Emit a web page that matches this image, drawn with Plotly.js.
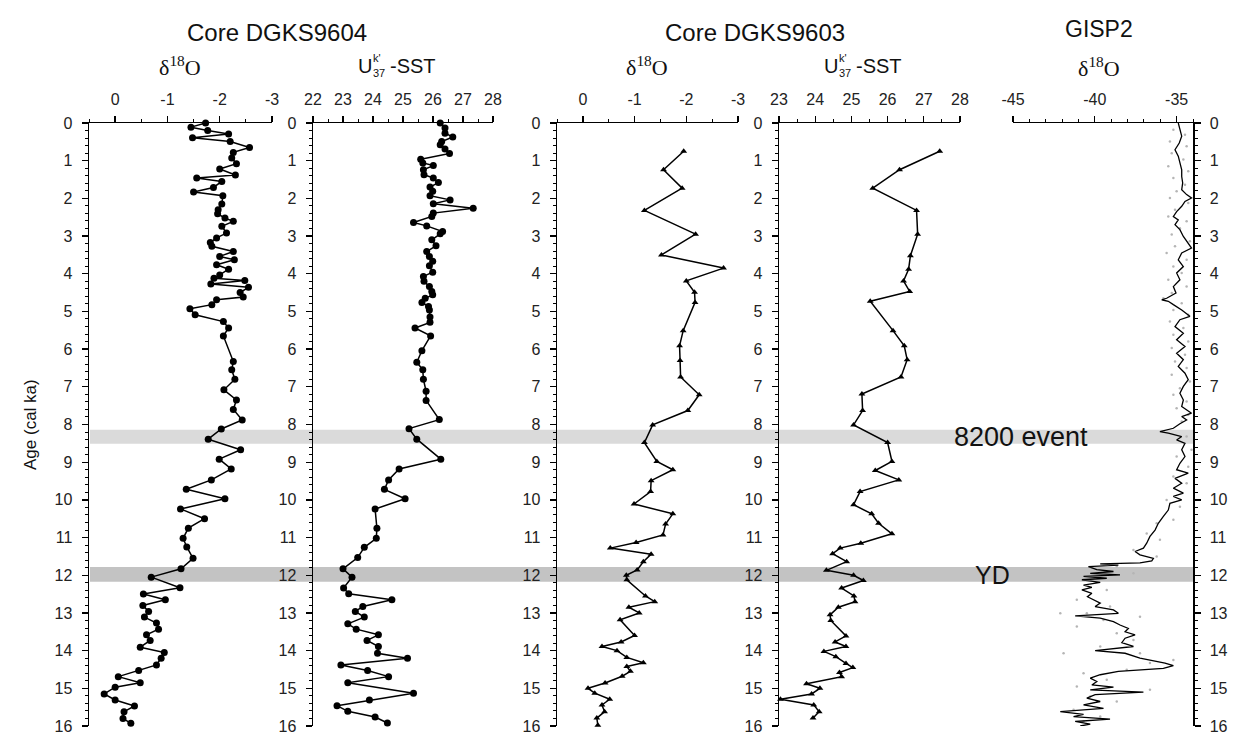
<!DOCTYPE html>
<html>
<head>
<meta charset="utf-8">
<script src="https://cdn.plot.ly/plotly-3.0.1.min.js"></script>
<style>html,body{margin:0;padding:0;background:#fff;}#chart{width:1238px;height:738px;}</style>
</head>
<body>
<div id="chart"></div>
<script>
// ---------- DATA ----------
// Core DGKS9604 d18O (age in cal ka, per mil)
const age9604d18O = [0.00,0.11,0.20,0.29,0.39,0.49,0.65,0.78, 0.93,1.08,1.22,1.38,1.46,1.55,1.71,1.83, 1.93,2.15,2.30,2.41,2.52,2.61,2.74,2.92, 3.05,3.17,3.27,3.41,3.54,3.63,3.76,3.88, 4.03,4.12,4.18,4.27,4.36,4.50,4.62,4.69, 4.82,4.93,5.09,5.27,5.44,5.65,6.33,6.55, 6.80,7.08,7.35,7.60,7.88,8.12,8.39,8.67, 8.92,9.18,9.47,9.72,9.97,10.24,10.50,10.75, 11.02,11.25,11.55,11.83,12.05,12.33,12.50,12.65, 12.80,12.96,13.11,13.27,13.43,13.58,13.73,13.91, 14.05,14.20,14.38,14.53,14.69,14.85,14.97,15.15, 15.31,15.47,15.62,15.80,15.93];
const val9604d18O = [-1.73,-1.45,-1.77,-2.17,-1.48,-2.20,-2.57,-2.26, -2.23,-2.32,-2.00,-2.30,-1.56,-2.04,-1.88,-1.50, -2.06,-2.04,-1.97,-1.96,-2.10,-2.26,-2.04,-2.13, -1.94,-1.82,-1.85,-2.26,-2.00,-2.28,-1.94,-2.17, -2.00,-1.89,-2.48,-1.83,-2.55,-2.39,-2.45,-1.94, -1.85,-1.43,-1.53,-2.07,-2.17,-2.07,-2.26,-2.23, -2.29,-2.08,-2.32,-2.26,-2.43,-2.03,-1.78,-2.40, -1.99,-2.22,-1.84,-1.36,-2.10,-1.25,-1.71,-1.40, -1.30,-1.37,-1.49,-1.26,-0.69,-1.24,-0.54,-0.96, -0.53,-0.64,-0.56,-0.79,-0.83,-0.60,-0.67,-0.48, -0.94,-0.88,-0.79,-0.45,-0.06,-0.48,0.00,0.21, 0.00,-0.37,-0.17,-0.15,-0.30];

// Core DGKS9604 UK'37-SST (deg C)
const age9604SST = [0.00,0.13,0.27,0.37,0.49,0.58,0.69,0.81, 0.96,1.06,1.13,1.24,1.37,1.46,1.58,1.70, 1.81,1.93,2.04,2.14,2.26,2.39,2.48,2.64, 2.73,2.88,2.94,3.10,3.26,3.41,3.54,3.67, 3.79,3.96,4.07,4.20,4.34,4.47,4.56,4.65, 4.76,4.87,4.96,5.15,5.29,5.44,5.65,6.04, 6.35,6.55,6.80,7.12,7.36,7.87,8.11,8.39, 8.92,9.18,9.47,9.72,9.97,10.24,10.75,11.02, 11.26,11.53,11.83,12.05,12.34,12.49,12.65,12.83, 12.96,13.11,13.29,13.43,13.58,13.73,13.89,14.07, 14.20,14.38,14.53,14.69,14.85,15.13,15.31,15.46, 15.61,15.76,15.92];
const val9604SST = [26.24,26.40,26.40,26.66,26.29,26.24,26.40,26.55, 25.59,25.66,26.01,25.68,25.70,26.01,26.18,25.90, 25.99,25.90,26.57,26.01,27.34,26.01,25.96,25.35, 25.79,26.32,26.24,25.96,26.10,25.79,25.88,25.99, 25.88,25.99,25.68,25.70,25.88,25.96,25.99,25.74, 25.63,25.85,25.88,25.90,25.90,25.40,25.92,25.63, 25.46,25.66,25.68,25.77,25.77,26.21,25.20,25.46, 26.26,24.87,24.52,24.38,25.07,24.07,24.13,24.11, 23.71,23.49,23.00,23.30,23.02,23.19,24.63,23.66, 23.41,23.71,23.16,23.44,24.18,23.80,24.18,24.15, 25.15,22.93,23.82,24.52,23.16,25.35,23.88,22.80, 23.16,24.07,24.48];

// Core DGKS9603 d18O
const age9603d18O = [0.75,1.24,1.73,2.32,2.95,3.50,3.85,4.19, 4.49,4.76,5.51,5.91,6.30,6.74,7.21,7.63, 8.01,8.48,8.98,9.20,9.49,9.78,10.11,10.37, 10.64,10.93,11.13,11.28,11.44,11.64,11.86,12.00, 12.12,12.55,12.70,12.85,13.00,13.18,13.60,13.77, 13.89,14.00,14.18,14.32,14.42,14.55,14.68,14.86, 15.00,15.13,15.29,15.44,15.62,15.79,15.98];
const val9603d18O = [-1.95,-1.56,-1.92,-1.19,-2.18,-1.52,-2.72,-2.00, -2.16,-2.17,-1.94,-1.87,-1.88,-1.89,-2.25,-2.03, -1.35,-1.19,-1.43,-1.74,-1.32,-1.31,-0.99,-1.74, -1.60,-1.55,-1.03,-0.53,-1.32,-1.17,-1.05,-0.84, -0.85,-1.21,-1.39,-0.89,-1.09,-0.72,-1.00,-0.74, -0.37,-0.66,-0.85,-1.17,-0.85,-0.92,-0.76,-0.43, -0.10,-0.23,-0.52,-0.37,-0.42,-0.27,-0.29];

// Core DGKS9603 UK'37-SST
const age9603SST = [0.75,1.24,1.73,2.32,2.95,3.52,3.88,4.19, 4.47,4.73,5.51,5.91,6.28,6.74,7.19,7.63, 8.01,8.48,8.98,9.22,9.47,9.78,10.13,10.37, 10.62,10.90,11.15,11.28,11.43,11.64,11.87,12.00, 12.14,12.34,12.55,12.70,12.85,13.05,13.20,13.61, 13.77,13.89,14.02,14.16,14.34,14.45,14.58,14.69, 14.88,15.00,15.15,15.29,15.44,15.62,15.79];
const val9603SST = [27.44,26.33,25.59,26.80,26.83,26.63,26.58,26.44, 26.61,25.52,26.15,26.46,26.54,26.37,25.29,25.31, 25.06,26.00,26.12,25.66,26.31,25.24,25.06,25.56, 25.75,26.12,25.26,24.69,24.48,24.87,24.31,25.06, 25.33,24.73,25.07,25.10,24.64,24.41,24.43,24.85, 24.55,24.85,24.24,24.57,24.85,25.04,24.67,24.73, 23.76,24.13,23.90,23.04,23.96,24.11,23.94];

// GISP2 d18O (smoothed line)
const ageGISP2 = [0.00,0.18,0.35,0.53,0.71,0.88,1.06,1.24,1.42,1.59,1.77,1.90,1.99,2.08,2.21,2.35,2.48,2.57,2.70,2.83,3.01,3.19,3.32,3.45,3.63,3.81,3.98,4.16,4.34,4.51,4.65,4.69,4.73,4.82,4.96,5.13,5.22,5.40,5.58,5.75,5.93,6.11,6.28,6.46,6.64,6.81,6.99,7.17,7.35,7.52,
 7.70,7.79,7.88,7.98,8.10,8.19,8.23,8.32,8.41,8.50,8.67,8.85,9.03,9.20,9.29,9.43,9.56,9.69,9.82,9.91,10.00,10.09,10.27,10.44,10.62,10.80,10.97,11.15,11.28,11.37,11.46,11.55,11.62,11.67,11.70,11.73,11.77,11.85,11.90,11.95,11.99,12.03,12.08,12.12,12.19,12.26,12.32,12.39,12.48,12.57,12.65,12.74,12.83,12.92,13.01,13.08,13.14,13.23,13.32,13.41,13.50,13.58,13.67,13.79,13.89,14.00,14.07,14.20,14.33,14.40,14.47,14.55,14.64,14.73,14.82,14.91,14.97,15.04,15.10,15.17,15.26,15.35,15.44,15.53,15.62,15.69,15.75,15.82,15.88,15.95,16.00];
const valGISP2 = [-34.90,-34.80,-34.69,-34.84,-35.10,-34.90,-34.80,-34.69,-34.69,-34.63,-34.69,-34.39,-34.09,-34.49,-34.69,-35.00,-35.20,-34.90,-35.10,-34.80,-34.59,-34.29,-34.09,-34.69,-34.90,-34.59,-35.00,-34.80,-35.20,-35.04,-35.61,-35.91,-35.51,-35.20,-34.69,-34.19,-34.80,-35.10,-34.59,-35.00,-34.49,-35.00,-34.59,-34.90,-34.49,-34.29,-34.59,-34.80,-34.59,-34.69,
 -34.09,-34.69,-34.39,-34.80,-35.20,-36.02,-35.51,-34.69,-35.00,-34.49,-34.69,-34.49,-34.80,-35.00,-34.29,-35.10,-34.69,-35.20,-34.59,-35.20,-34.69,-35.41,-35.51,-35.81,-36.12,-36.32,-36.63,-36.83,-37.03,-37.54,-37.24,-36.42,-36.52,-37.24,-39.67,-38.56,-40.39,-39.88,-38.86,-40.28,-38.46,-40.69,-39.27,-40.79,-39.67,-40.69,-40.18,-40.79,-40.18,-40.45,-40.08,-39.67,-39.98,-38.86,-38.56,-41.20,-39.67,-38.86,-38.46,-37.95,-38.15,-37.54,-38.15,-38.35,-37.64,-39.98,-38.15,-37.24,-35.71,-35.20,-35.81,-38.56,-39.67,-40.28,-39.88,-40.18,-38.86,-40.28,-37.03,-39.98,-40.49,-39.67,-40.69,-39.47,-42.11,-40.69,-41.30,-39.07,-41.20,-40.28,-40.89];

// GISP2 d18O raw samples (grey dots)
const ageGISP2raw = [0.18,0.31,0.49,0.62,0.80,0.97,1.15,1.28,1.46,1.64,1.81,1.99,2.12,2.30,2.48,2.61,2.79,2.96,3.14,3.27,3.45,3.63,3.81,3.98,4.16,4.34,4.51,4.65,4.78,4.96,5.09,5.27,5.44,5.62,5.80,5.97,6.15,6.33,6.50,6.68,6.86,7.04,7.21,7.39,7.57,7.74,7.92,8.32,8.67,8.85,9.12,9.38,9.56,10.00,10.18,10.53,10.62,10.89,11.06,11.33,11.50,11.77,11.95,12.12,12.39,12.65,12.83,13.01,13.01,13.10,13.19,13.36,13.54,13.72,13.89,14.07,14.07,14.25,14.33,14.51,14.60,14.77,14.95,15.04,15.22,15.35,15.57,15.75,15.88];
const valGISP2raw = [-35.20,-34.49,-35.41,-34.39,-35.30,-34.59,-35.51,-34.29,-35.20,-34.49,-35.00,-35.41,-34.29,-35.10,-35.51,-34.39,-34.80,-35.30,-34.19,-35.10,-35.61,-34.39,-35.20,-34.69,-35.51,-34.39,-35.30,-35.81,-34.69,-35.20,-34.29,-35.41,-34.59,-35.20,-34.29,-35.30,-34.49,-35.10,-34.39,-35.30,-34.19,-34.80,-35.20,-34.39,-35.00,-34.29,-34.69,-34.39,-34.09,-35.00,-34.29,-35.20,-34.39,-35.61,-34.80,-35.20,-36.22,-36.83,-36.02,-37.64,-36.22,-38.66,-37.64,-40.69,-39.27,-41.10,-39.07,-40.49,-42.11,-37.24,-39.47,-41.10,-38.66,-37.64,-39.67,-37.24,-41.91,-35.20,-36.63,-38.05,-40.69,-39.27,-41.10,-36.63,-40.28,-38.66,-41.30,-39.67,-40.69];

// Event bands (cal ka)
const band8200 = [8.14, 8.51];
const bandYD = [11.78, 12.17];

// ---------- LAYOUT ----------
const W = 1238, H = 738;
const px = v => v / W;
const py = v => 1 - v / H;
const yDom = [py(726), py(123)];
const tickFont = {family: 'Liberation Sans, Arial, sans-serif', size: 16, color: '#222'};
const lineCol = '#000';

function xAx(dom, range, anchor, extra) {
  return Object.assign({
    domain: dom, range: range, anchor: anchor, side: 'top',
    showline: true, linecolor: lineCol, linewidth: 1.5,
    ticks: 'outside', ticklen: 6, tickwidth: 1.3, tickcolor: lineCol,
    showgrid: false, zeroline: false, tickfont: tickFont, ticklabelstandoff: 4,
    fixedrange: true
  }, extra);
}
function yAx(anchor, side, extra) {
  return Object.assign({
    domain: yDom, range: [16, 0], anchor: anchor, side: side,
    showline: true, linecolor: lineCol, linewidth: 1.5,
    ticks: 'outside', ticklen: 6, tickwidth: 1.3, tickcolor: lineCol,
    tickmode: 'linear', tick0: 0, dtick: 1,
    minor: {ticks: 'outside', ticklen: 3, tickwidth: 1, tickcolor: lineCol, dtick: 0.2, tick0: 0},
    showgrid: false, zeroline: false, tickfont: tickFont, ticklabelstandoff: 6,
    fixedrange: true
  }, extra);
}
const dTicks = {tickmode: 'array', tickvals: [0, -1, -2, -3], ticktext: ['0', '-1', '-2', '-3'],
  minor: {ticks: 'outside', ticklen: 3, tickwidth: 1, tickcolor: lineCol, tickmode: 'linear', tick0: 0, dtick: 0.5}};
const sstTicks = {tickmode: 'linear', tick0: 22, dtick: 1,
  minor: {ticks: 'outside', ticklen: 3, tickwidth: 1, tickcolor: lineCol, tickmode: 'linear', tick0: 22, dtick: 0.5}};

const layout = {
  width: W, height: H,
  margin: {l: 0, r: 0, t: 0, b: 0},
  paper_bgcolor: '#fff', plot_bgcolor: 'rgba(0,0,0,0)',
  showlegend: false,
  font: {family: 'Liberation Sans, Arial, sans-serif', color: '#222'},
  xaxis:  xAx([px(89), px(272)], [0.5, -3], 'y', dTicks),
  yaxis:  yAx('x', 'left'),
  xaxis2: xAx([px(313), px(493)], [22, 28], 'y2', sstTicks),
  yaxis2: yAx('x2', 'left'),
  xaxis3: xAx([px(557), px(738)], [0.5, -3], 'y3', dTicks),
  yaxis3: yAx('x3', 'left'),
  xaxis4: xAx([px(779), px(960)], [23, 28], 'y4', sstTicks),
  yaxis4: yAx('x4', 'left'),
  xaxis5: xAx([px(1013), px(1193)], [-45, -34], 'y5', {tickmode: 'array', tickvals: [-45, -40, -35], ticktext: ['-45', '-40', '-35'],
    minor: {ticks: 'outside', ticklen: 3, tickwidth: 1, tickcolor: lineCol, tickmode: 'linear', tick0: -45, dtick: 1}}),
  yaxis5: yAx('x5', 'right'),
  shapes: [
    {type: 'rect', layer: 'below', xref: 'paper', yref: 'y', x0: px(90), x1: px(1193), y0: band8200[0], y1: band8200[1], fillcolor: '#dadada', line: {width: 0}},
    {type: 'rect', layer: 'below', xref: 'paper', yref: 'y', x0: px(90), x1: px(1193), y0: bandYD[0], y1: bandYD[1], fillcolor: '#c3c3c3', line: {width: 0}}
  ],
  annotations: []
};

function ann(text, x, y, size, opts) {
  layout.annotations.push(Object.assign({
    text: text, xref: 'paper', yref: 'paper', x: px(x), y: py(y), showarrow: false,
    xanchor: 'center', yanchor: 'middle',
    font: {family: 'Liberation Sans, Arial, sans-serif', size: size, color: '#111'}
  }, opts || {}));
}
// Titles
ann('Core DGKS9604', 277, 33, 24);
ann('Core DGKS9603', 755, 33, 24);
ann('GISP2', 1099, 29, 23);
// delta 18 O subtitles (serif)
const serif = {family: 'Liberation Serif, Times New Roman, serif', size: 22, color: '#111'};
ann('δ<sup>18</sup>O', 180, 66, 22, {font: serif});
ann('δ<sup>18</sup>O', 647, 66, 22, {font: serif});
ann('δ<sup>18</sup>O', 1099, 67, 22, {font: serif});
// U^k'_37 -SST composite labels
function ukLabel(c) {
  ann('U', c - 44, 66, 20, {xanchor: 'left'});
  ann("k'", c - 29, 58, 11, {xanchor: 'left'});
  ann('37', c - 29, 73, 11, {xanchor: 'left'});
  ann('-SST', c - 12, 66, 20, {xanchor: 'left'});
}
ukLabel(400);
ukLabel(866);
// Y-axis title
ann('Age (cal ka)', 30, 425, 17, {textangle: -90});
// Event labels
ann('8200 event', 1021, 437, 27);
ann('YD', 992, 575, 25);

// ---------- TRACES ----------
const lineStyle = {color: '#000', width: 1.5};
const traces = [
  {x: val9604d18O, y: age9604d18O, xaxis: 'x', yaxis: 'y', mode: 'lines+markers', line: lineStyle,
   marker: {symbol: 'circle', size: 7, color: '#000'}, cliponaxis: false},
  {x: val9604SST, y: age9604SST, xaxis: 'x2', yaxis: 'y2', mode: 'lines+markers', line: lineStyle,
   marker: {symbol: 'circle', size: 7, color: '#000'}, cliponaxis: false},
  {x: val9603d18O, y: age9603d18O, xaxis: 'x3', yaxis: 'y3', mode: 'lines+markers', line: lineStyle,
   marker: {symbol: 'triangle-up', size: 6, color: '#000'}, cliponaxis: false},
  {x: val9603SST, y: age9603SST, xaxis: 'x4', yaxis: 'y4', mode: 'lines+markers', line: lineStyle,
   marker: {symbol: 'triangle-up', size: 6, color: '#000'}, cliponaxis: false},
  {x: valGISP2raw, y: ageGISP2raw, xaxis: 'x5', yaxis: 'y5', mode: 'markers',
   marker: {symbol: 'circle', size: 2.5, color: '#b5b5b5'}},
  {x: valGISP2, y: ageGISP2, xaxis: 'x5', yaxis: 'y5', mode: 'lines', line: {color: '#000', width: 1.3}}
];

Plotly.newPlot('chart', traces, layout, {staticPlot: true, displayModeBar: false});
</script>
</body>
</html>
